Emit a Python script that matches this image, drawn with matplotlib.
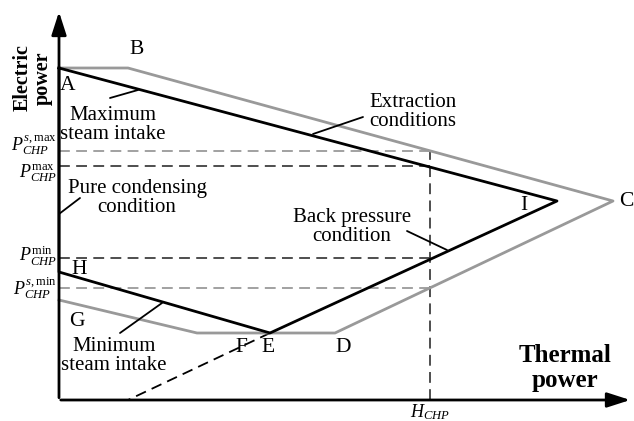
import matplotlib.pyplot as plt

plt.rcParams['font.family'] = ['Liberation Serif', 'DejaVu Serif']
plt.rcParams['mathtext.fontset'] = 'custom'
plt.rcParams['mathtext.rm'] = 'Liberation Serif'
plt.rcParams['mathtext.it'] = 'Liberation Serif:italic'

# operating region of the CHP unit (thermal power, electric power)
# outer (gray) boundary: A-B-C-D-F-G
outer_pts = ['A', 'B', 'C', 'D', 'F', 'G']
outer_h = [0, 69, 554, 276, 138, 0]
outer_p = [332, 332, 199, 67, 67, 100]
# inner (black) boundary: A-I-E-H
inner_pts = ['A', 'I', 'E', 'H']
inner_h = [0, 498, 211, 0]
inner_p = [332, 199, 67, 128]
# back pressure line extension below E
ext_h = [211, 69]
ext_p = [67, 0]

H_chp = 371
p_levels = [249, 234, 142, 112]
p_labels = [r'$P_{CHP}^{s,\max}$', r'$P_{CHP}^{\max}$',
            r'$P_{CHP}^{\min}$', r'$P_{CHP}^{s,\min}$']
p_colors = ['#9a9a9a', '#404040', '#404040', '#9a9a9a']
label_shift = [6, -7, 2, 0]

fig = plt.figure(figsize=(6.34, 4.21), dpi=100)
ax = fig.add_axes([0, 0, 1, 1])
ax.set_xlim(-59, 575)
ax.set_ylim(-21, 400)
ax.axis('off')

gray = '#999999'

# dashed guides
for lev, lab, col, sh in zip(p_levels, p_labels, p_colors, label_shift):
    ax.plot([0, H_chp], [lev, lev], color=col, lw=1.3, dashes=(6, 3.5))
    ax.text(-2, lev + sh, lab, ha='right', va='center', fontsize=13)
ax.plot([H_chp, H_chp], [0, max(p_levels)], color='#404040', lw=1.3, dashes=(6, 3.5))
ax.text(H_chp, -2, r'$H_{CHP}$', ha='center', va='top', fontsize=13)
ax.plot(ext_h, ext_p, color='black', lw=1.3, dashes=(6, 3.5))

# boundaries
ax.plot(outer_h, outer_p, color=gray, lw=2)
ax.plot(inner_h + inner_h[:1], inner_p + inner_p[:1], color='black', lw=2)

# axes with arrows
ax.annotate('', xy=(0, 391), xytext=(0, -0.5),
            arrowprops=dict(arrowstyle='-|>,head_length=1.4,head_width=0.45',
                            color='black', lw=2))
ax.annotate('', xy=(574, 0), xytext=(-1, 0),
            arrowprops=dict(arrowstyle='-|>,head_length=1.4,head_width=0.45',
                            color='black', lw=2))
ax.text(-26, 322, 'Electric\npower', rotation=90, ha='center', va='center',
        fontsize=14.5, fontweight='bold', linespacing=1.0)
ax.text(506, 32, 'Thermal\npower', ha='center', va='center',
        fontsize=18, fontweight='bold', linespacing=1.1)

# point letters
letters = {'A': (9, 314), 'B': (78, 350), 'C': (567, 199), 'I': (465, 195),
           'H': (20, 130), 'G': (18, 78), 'F': (182, 53), 'D': (284, 53),
           'E': (209, 53)}
for k, (x, y) in letters.items():
    ax.text(x, y, k, ha='center', va='center', fontsize=15.5)

# annotations with leader lines
notes = [
    ('Maximum\nsteam intake', (54, 275), (79, 310), (51, 302)),
    ('Extraction\nconditions', (354, 288), (254, 266), (304, 283)),
    ('Pure condensing\ncondition', (78, 202), (0, 186), (21, 202)),
    ('Back pressure\ncondition', (293, 173), (388, 150), (348, 169)),
    ('Minimum\nsteam intake', (55, 44), (103, 97), (61, 67)),
]
for txt, tpos, xy, start in notes:
    ax.text(tpos[0], tpos[1], txt, ha='center', va='center', fontsize=15,
            linespacing=1.05)
    ax.annotate('', xy=xy, xytext=start,
                arrowprops=dict(arrowstyle='-', color='black', lw=1.3,
                                shrinkA=0, shrinkB=0))

fig.savefig('out.png', dpi=100)
